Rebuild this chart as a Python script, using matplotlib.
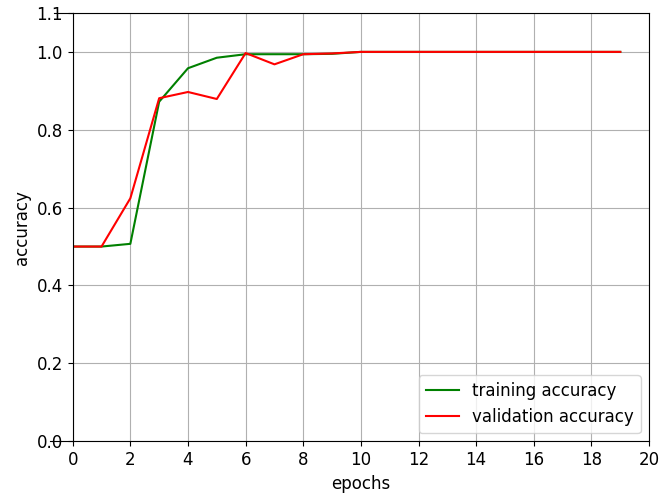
import matplotlib
matplotlib.use("Agg")
import matplotlib.pyplot as plt
import numpy as np

plt.rcParams['font.size'] = 12

# accuracy per epoch
epochs = list(range(20))
train_acc = [0.500, 0.500, 0.507, 0.872, 0.958, 0.985, 0.994, 0.994, 0.994, 0.995,
             1.0, 1.0, 1.0, 1.0, 1.0, 1.0, 1.0, 1.0, 1.0, 1.0]
val_acc = [0.500, 0.500, 0.624, 0.881, 0.897, 0.879, 0.997, 0.968, 0.994, 0.996,
           1.0, 1.0, 1.0, 1.0, 1.0, 1.0, 1.0, 1.0, 1.0, 1.0]

fig, ax = plt.subplots(figsize=(6.61, 4.98), dpi=100)
fig.subplots_adjust(left=0.110, right=0.982, top=0.974, bottom=0.114)
ax.plot(epochs, train_acc, color='g', label='training accuracy')
ax.plot(epochs, val_acc, color='r', label='validation accuracy')
ax.set_xlim(0, 20)
ax.set_ylim(0, 1.1)
ax.set_xticks(np.arange(0, 21, 2))
ax.set_yticks([0.0, 0.2, 0.4, 0.6, 0.8, 1.0, 1.1])
ax.set_xlabel('epochs')
ax.set_ylabel('accuracy')
ax.grid(True)
ax.legend(loc='lower right')

# long tick marks at both ends of the y axis, running through the labels
for yv, length in ((0.0, 0.04), (1.1, 0.032)):
    ax.plot([-length, 0], [yv, yv], transform=ax.get_yaxis_transform(),
            color='k', lw=0.8, clip_on=False)

fig.savefig('out.png')
